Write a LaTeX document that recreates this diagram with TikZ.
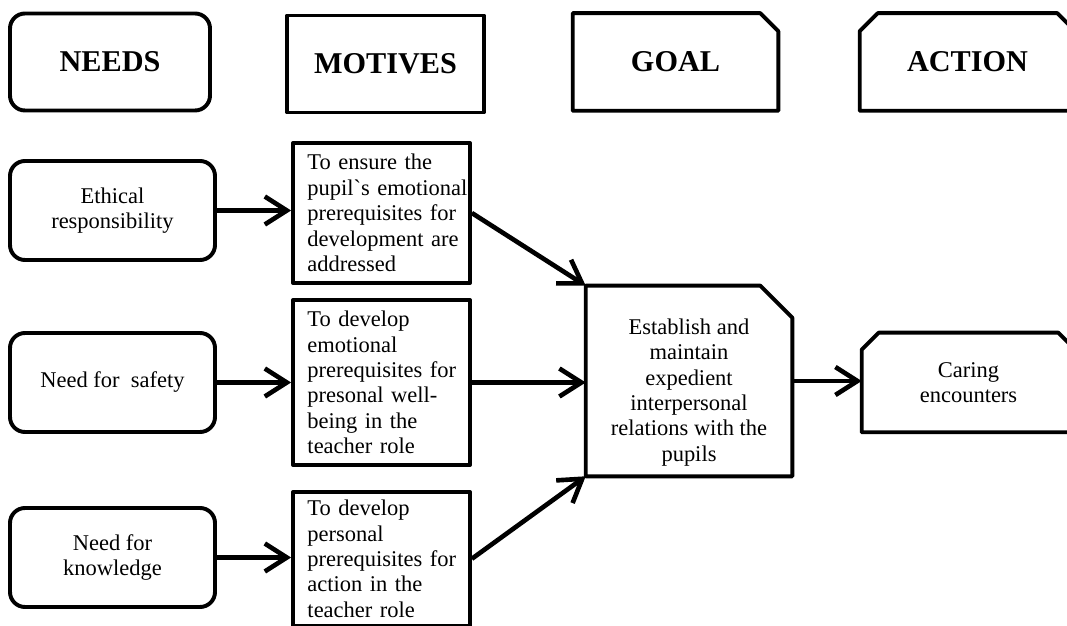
\documentclass[tikz,border=0pt]{standalone}
\usepackage{fontspec}
\setmainfont{Liberation Serif}[Ligatures=TeXOff]
\usetikzlibrary{arrows.meta}

\begin{document}
\begin{tikzpicture}[x=0.25mm, y=-0.25mm,
  frame/.style={line width=2.8pt, line join=round},
  head/.style={minimum width=50mm, minimum height=24.25mm, inner sep=0pt, font=\fontsize{21.5pt}{24pt}\selectfont\bfseries},
  need/.style={draw, frame, rounded corners=3.75mm, minimum width=51.25mm, minimum height=24.75mm, align=center, inner sep=0pt, font=\fontsize{16pt}{18.1pt}\selectfont},
  motive/.style={draw, frame, text width=37mm, align=left, inner xsep=3.6mm, inner ysep=2mm, font=\fontsize{16pt}{18.1pt}\selectfont},
  plain/.style={align=center, inner sep=0pt, font=\fontsize{16pt}{18.1pt}\selectfont},
  flow/.style={-{Straight Barb[length=5.5mm, width=7mm]}, line width=3.3pt}
]
\useasboundingbox (0,0) rectangle (1067,626);
\clip (0,0) rectangle (1067,626);

% column heads
\node[head, draw, frame, rounded corners=3.75mm] (hneeds) at (110,62) {NEEDS};
\node[head, draw, frame, minimum width=49.25mm] (hmotives) at (385.5,64) {MOTIVES};
\node[head, minimum width=51.25mm] (hgoal) at (675.5,62) {GOAL};
\node[head, minimum width=53.75mm] (haction) at (967.5,62) {ACTION};
\draw[frame] (hgoal.south west) -- (hgoal.north west) -- ([xshift=-4.5mm]hgoal.north east)
  -- ([yshift=-4.5mm]hgoal.north east) -- (hgoal.south east) -- cycle;
\draw[frame] (haction.south west) -- ([yshift=-4.5mm]haction.north west) -- ([xshift=4.5mm]haction.north west)
  -- ([xshift=-4.5mm]haction.north east) -- ([yshift=-4.5mm]haction.north east) -- (haction.south east) -- cycle;

% needs
\node[need] (ethical) at (112.5,210.5) {Ethical\\responsibility};
\node[need] (safety) at (112.5,382.5) {Need for\ \ safety};
\node[need] (knowledge) at (112.5,557.5) {Need for\\knowledge};

% motives
\node[motive, minimum height=35mm] (m1) at (381.5,213) {To ensure the\\\mbox{pupil`s emotional}\\\mbox{prerequisites for}\\\mbox{development are}\\addressed};
\node[motive, minimum height=41.25mm] (m2) at (381.5,382.5) {To develop\\emotional\\\mbox{prerequisites for}\\presonal well-\\being in the\\teacher role};
\node[motive, anchor=north] (m3) at (381.5,490) {To develop\\personal\\\mbox{prerequisites for}\\action in the\\teacher role};

% goal and action
\node[plain, minimum width=51.5mm, minimum height=47.5mm] (goal) at (689,381) {\rule{0pt}{1.7em}Establish and\\maintain\\expedient\\interpersonal\\relations with the\\pupils};
\draw[frame] (goal.south west) -- (goal.north west) -- ([xshift=-8mm]goal.north east)
  -- ([yshift=-8mm]goal.north east) -- (goal.south east) -- cycle;
\node[plain, minimum width=53.25mm, minimum height=24.75mm] (action) at (968.5,382.5) {Caring\\encounters};
\draw[frame] (action.south west) -- ([yshift=-4.25mm]action.north west) -- ([xshift=4.25mm]action.north west)
  -- ([xshift=-4.25mm]action.north east) -- ([yshift=-4.25mm]action.north east) -- (action.south east) -- cycle;

\draw[flow] (ethical.east) -- (m1.west |- ethical.east);
\draw[flow] (safety.east) -- (m2.west |- safety.east);
\draw[flow] (knowledge.east) -- (m3.west |- knowledge.east);
\draw[flow] (m1.east) -- (goal.north west);
\draw[flow] (m2.east) -- (goal.west |- m2.east);
\draw[flow] (m3.east) -- (goal.south west);
\draw[flow] (goal.east) -- (action.west |- goal.east);
\end{tikzpicture}
\end{document}
